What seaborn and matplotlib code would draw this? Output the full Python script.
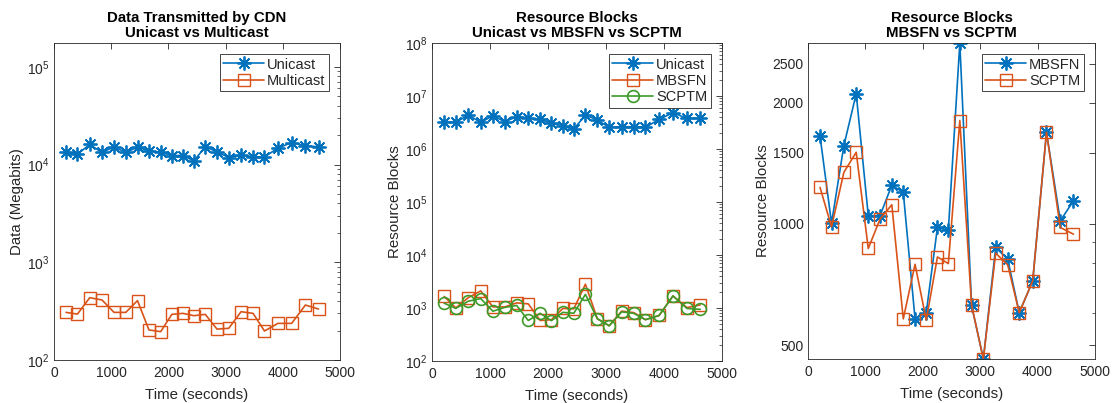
import numpy as np
import pandas as pd
import matplotlib
matplotlib.use("Agg")
import matplotlib.pyplot as plt
import matplotlib.ticker as mticker
import seaborn as sns

# Sampling instants (seconds)
time_s = [210, 410, 625, 840, 1050, 1255, 1460, 1660, 1865, 2060, 2255,
          2445, 2645, 2850, 3055, 3270, 3480, 3680, 3915, 4155, 4395, 4625]

# Data transmitted by the CDN (Megabits)
data_unicast = [13270, 12760, 16020, 13270, 15160, 13270, 15040, 13800, 13270,
                12360, 12360, 10900, 15160, 13480, 11790, 12460, 11980, 11980,
                14690, 16790, 15520, 15160]
data_multicast = [307, 295, 434, 411, 307, 307, 405, 203, 195, 293, 300, 284,
                  293, 207, 211, 312, 300, 198, 237, 237, 365, 332]

# Resource blocks per scheme
rb_unicast = [3.27e6, 3.18e6, 4.37e6, 3.18e6, 4.25e6, 3.27e6, 4.07e6, 3.78e6,
              3.62e6, 3.05e6, 2.75e6, 2.38e6, 4.37e6, 3.52e6, 2.56e6, 2.63e6,
              2.63e6, 2.56e6, 3.62e6, 4.84e6, 3.78e6, 3.78e6]
rb_mbsfn = [1651, 1004, 1565, 2104, 1048, 1048, 1248, 1197, 581, 602, 980,
            965, 2813, 628, 462, 874, 817, 602, 722, 1689, 1018, 1141]
rb_scptm = [1232, 983, 1343, 1506, 869, 1028, 1116, 581, 794, 577, 828,
            797, 1806, 628, 462, 846, 791, 602, 722, 1689, 980, 943]

# Tick values
data_ticks = [1e2, 1e3, 1e4, 1e5]
rb_ticks = [1e2, 1e3, 1e4, 1e5, 1e6, 1e7, 1e8]
mc_ticks = [500, 1000, 1500, 2000, 2500]

BLUE = "#0072BD"
ORANGE = "#D95319"
GREEN = "#3C9A28"
AXCOL = "#262626"
ASTERISK = (8, 2, 0)

sns.set_theme(style="white")
plt.rcParams["font.family"] = ["Liberation Sans", "DejaVu Sans"]
plt.rcParams["mathtext.fontset"] = "custom"
plt.rcParams["mathtext.rm"] = "Liberation Sans"
plt.rcParams["mathtext.it"] = "Liberation Sans"

fig = plt.figure(figsize=(11.15, 4.03), dpi=100)
W, H = 1115, 403
boxes = [(54, 43, 340, 360), (432, 43, 722, 361), (808, 43, 1095, 359)]
axes = [fig.add_axes([l / W, 1 - b / H, (r - l) / W, (b - t) / H])
        for (l, t, r, b) in boxes]


def series(ax, y, marker, color, label, ms, mew=1.0):
    df = pd.DataFrame({"t": time_s, "v": y})
    sns.lineplot(data=df, x="t", y="v", ax=ax, color=color, label=label,
                 marker=marker, markersize=ms, markerfacecolor="none",
                 markeredgecolor=color, markeredgewidth=mew, linewidth=1.2,
                 estimator=None, sort=False)


def style(ax, title, ylabel):
    ax.set_title(title, fontsize=10.8, fontweight="bold", color="black",
                 pad=4, linespacing=1.1)
    ax.set_xlabel("Time (seconds)", fontsize=10.8, color=AXCOL, labelpad=6)
    ax.set_ylabel(ylabel, fontsize=10.8, color=AXCOL, labelpad=2)
    ax.set_xlim(0, 5000)
    ax.xaxis.set_major_locator(mticker.MultipleLocator(1000))
    ax.tick_params(axis="both", which="both", direction="in", top=True,
                   right=True, colors=AXCOL, labelsize=10, pad=3)
    ax.tick_params(axis="x", pad=4)
    ax.tick_params(which="major", length=4, width=0.6)
    ax.tick_params(which="minor", length=2, width=0.5)
    for s in ax.spines.values():
        s.set_color(AXCOL)
        s.set_linewidth(0.6)
    leg = ax.legend(loc="upper right", fontsize=10.5, handlelength=2.8,
                    fancybox=False, framealpha=1, borderaxespad=0.75,
                    borderpad=0.25, labelspacing=0.15, handletextpad=0.2)
    leg.get_frame().set_edgecolor(AXCOL)
    leg.get_frame().set_linewidth(0.6)
    for txt in leg.get_texts():
        txt.set_color(AXCOL)


def log_ticks(ax, ticks):
    ax.yaxis.set_major_locator(mticker.FixedLocator(ticks))
    ax.yaxis.set_major_formatter(mticker.LogFormatterMathtext())
    ax.yaxis.set_minor_locator(
        mticker.LogLocator(base=10, subs=np.arange(2, 10), numticks=20))
    ax.yaxis.set_minor_formatter(mticker.NullFormatter())


# Panel 1: data transmitted
ax = axes[0]
series(ax, data_unicast, ASTERISK, BLUE, "Unicast", 10, 1.3)
series(ax, data_multicast, "s", ORANGE, "Multicast", 8)
ax.set_yscale("log")
ax.set_ylim(100, 1.75e5)
log_ticks(ax, data_ticks)
style(ax, "Data Transmitted by CDN\nUnicast vs Multicast", "Data (Megabits)")

# Panel 2: resource blocks, all schemes
ax = axes[1]
series(ax, rb_unicast, ASTERISK, BLUE, "Unicast", 10, 1.3)
series(ax, rb_mbsfn, "s", ORANGE, "MBSFN", 8)
series(ax, rb_scptm, "o", GREEN, "SCPTM", 8.5, 1.2)
ax.set_yscale("log")
ax.set_ylim(1e2, 1e8)
log_ticks(ax, rb_ticks)
style(ax, "Resource Blocks\nUnicast vs MBSFN vs SCPTM", "Resource Blocks")

# Panel 3: multicast schemes only
ax = axes[2]
series(ax, rb_mbsfn, ASTERISK, BLUE, "MBSFN", 10, 1.3)
series(ax, rb_scptm, "s", ORANGE, "SCPTM", 8)
ax.set_yscale("log")
ax.set_ylim(min(rb_scptm + rb_mbsfn), max(rb_scptm + rb_mbsfn))
ax.yaxis.set_major_locator(mticker.FixedLocator(mc_ticks))
ax.yaxis.set_major_formatter(mticker.FormatStrFormatter("%d"))
ax.yaxis.set_minor_locator(mticker.FixedLocator([600, 700, 800, 900]))
ax.yaxis.set_minor_formatter(mticker.NullFormatter())
style(ax, "Resource Blocks\nMBSFN vs SCPTM", "Resource Blocks")

fig.savefig("out.png", dpi=100)
